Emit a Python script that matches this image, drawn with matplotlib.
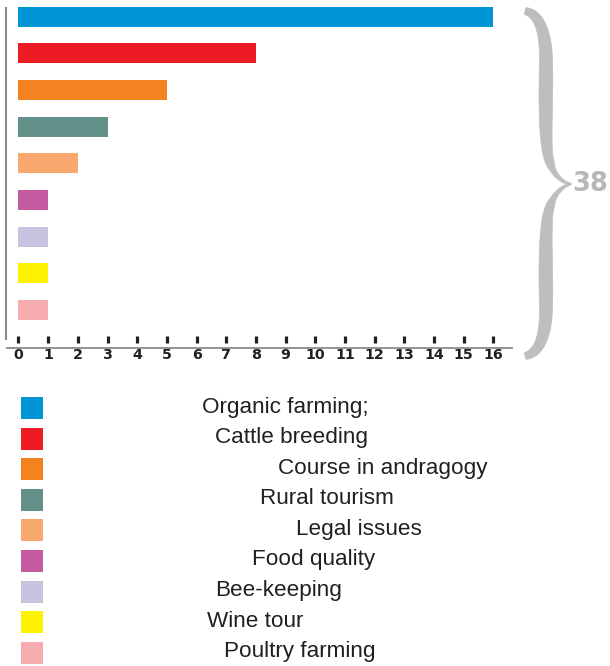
import matplotlib
matplotlib.use("Agg")
import numpy as np
import matplotlib.pyplot as plt
from matplotlib.patches import Polygon, Rectangle

categories = ["Organic farming;", "Cattle breeding", "Course in andragogy",
              "Rural tourism", "Legal issues", "Food quality", "Bee-keeping",
              "Wine tour", "Poultry farming"]
values = [16, 8, 5, 3, 2, 1, 1, 1, 1]
colors = ["#0096D6", "#ED1C24", "#F58220", "#64908A", "#F9A870",
          "#C45AA0", "#C8C4E0", "#FFF200", "#F7ACAF"]
xticks = list(range(0, 17))
total_label = "38"

W, H = 610, 666
fig = plt.figure(figsize=(W / 100, H / 100), dpi=100)

def fx(px):
    return px / W

def fy(py):
    return 1 - py / H

# main bar axes: left edge px 6, right px 513, top px 7, bottom px 343
ax = fig.add_axes([fx(6), fy(343), fx(513) - fx(6), fy(7) - fy(343)])
ypos = list(range(len(values)))
ax.barh(ypos, values, height=0.545, color=colors, left=0)
ax.set_xlim(-0.421, 16.657)
ax.set_ylim(8.9, -0.265)
for s in ax.spines.values():
    s.set_visible(False)
ax.set_yticks([])
ax.set_xticks(xticks)
ax.set_xticklabels([str(t) for t in xticks], fontsize=10.3, fontweight="bold",
                   color="#231F20")
ax.tick_params(axis="x", direction="in", length=5.2, width=2.3,
               color="#231F20", pad=3.6)

# overlay axes in pixel coordinates for decorations
ov = fig.add_axes([0, 0, 1, 1], zorder=5)
ov.set_xlim(0, W)
ov.set_ylim(H, 0)
ov.axis("off")
ov.patch.set_alpha(0)

# axis lines
ov.plot([6, 6], [7, 340], color="#8A8A8A", lw=1.5, solid_capstyle="butt")
ov.plot([6, 513], [347.5, 347.5], color="#8A8A8A", lw=1.3, solid_capstyle="butt")

# brace as filled tapered shape
def bez(p0, p1, p2, p3, n=60):
    t = np.linspace(0, 1, n)[:, None]
    p0, p1, p2, p3 = map(np.array, (p0, p1, p2, p3))
    return ((1 - t) ** 3) * p0 + 3 * ((1 - t) ** 2) * t * p1 + 3 * (1 - t) * t ** 2 * p2 + t ** 3 * p3

def half(segments):
    pts = np.vstack([bez(*seg) for seg in segments])
    d = np.diff(pts, axis=0)
    seglen = np.hypot(d[:, 0], d[:, 1])
    s = np.concatenate([[0], np.cumsum(seglen)])
    s = s / s[-1]
    tang = np.gradient(pts, axis=0)
    tang = tang / np.hypot(tang[:, 0], tang[:, 1])[:, None]
    nrm = np.stack([-tang[:, 1], tang[:, 0]], axis=1)
    hw = 3.2 + 3.6 * np.sin(np.pi * np.clip(s * 1.15, 0, 1)) ** 0.6
    hw = np.where(s > 0.85, hw * (1 - (s - 0.85) / 0.15 * 0.75), hw)
    left = pts + nrm * hw[:, None]
    right = pts - nrm * hw[:, None]
    return np.vstack([left, right[::-1]])

tipx, tipy = 571, 184
upper = [((525, 11), (541, 14), (546, 36), (546, 62)),
         ((546, 62), (546, 95), (545, 125), (547, 148)),
         ((547, 148), (549, 170), (559, 182), (tipx, tipy))]
lower = [((525, 356), (541, 353), (546, 332), (546, 306)),
         ((546, 306), (546, 275), (545, 245), (547, 222)),
         ((547, 222), (549, 199), (559, 187), (tipx, tipy))]
brace_col = "#BCBEC0"
for segs in (upper, lower):
    ov.add_patch(Polygon(half(segs), closed=True, facecolor=brace_col,
                         edgecolor=brace_col, lw=0.5))
ov.text(572, 184, total_label, fontsize=18.5, fontweight="bold", color="#B5B7B9",
        ha="left", va="center")

# legend
leg_y0, leg_dy = 408, 30.6
text_x = [202, 215, 278, 260, 296, 252, 215, 207, 224]
for i, (cat, col) in enumerate(zip(categories, colors)):
    yc = leg_y0 + i * leg_dy
    ov.add_patch(Rectangle((21, yc - 11), 22, 22, facecolor=col, edgecolor="none"))
    ov.text(text_x[i], yc - 1, cat, fontsize=16.2, family="Liberation Sans",
            color="#231F20", ha="left", va="center")

fig.savefig("out.png", dpi=100)
